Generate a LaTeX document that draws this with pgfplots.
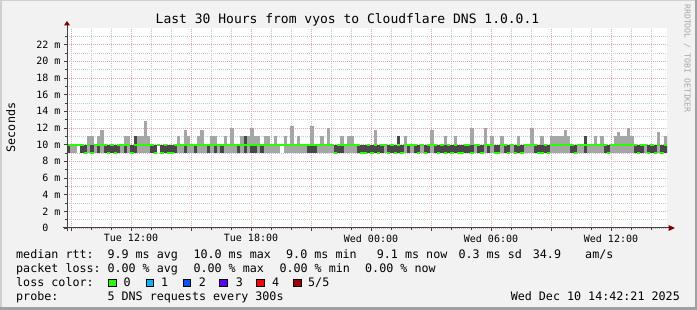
\documentclass[border=0pt]{standalone}
\usepackage{fontspec}
\setmainfont{DejaVu Sans Mono}
\usepackage{pgfplots}
\pgfplotsset{compat=1.18}
\usepackage{pgfplotstable}

\definecolor{bgc}{HTML}{F2F2F2}
\definecolor{brdlight}{HTML}{D0D0D0}
\definecolor{brddark}{HTML}{A0A0A0}
\definecolor{axcol}{HTML}{404040}
\definecolor{arrowcol}{HTML}{7F0000}
\definecolor{mgrid}{HTML}{E8A8A8}
\definecolor{ngrid}{HTML}{C8C8C8}
\definecolor{smokeL}{HTML}{A6A6A6}
\definecolor{smokeD}{HTML}{484848}
\definecolor{loss0}{HTML}{26FF00}
\definecolor{loss1}{HTML}{00B8FF}
\definecolor{loss2}{HTML}{0059FF}
\definecolor{loss3}{HTML}{5E00FF}
\definecolor{loss4}{HTML}{FF0000}
\definecolor{loss5}{HTML}{A00000}
\definecolor{wmark}{HTML}{A8A8A8}

% i = 10-minute step since Tue 08:48; lo/hi = min/max ping, dlo/dhi = inner range, med = median (ms)
\pgfplotstableread{
i lo dlo dhi hi med
0 9 9 10 10 10
1 9 10 10 10 10
2 9 10 10 10 10
3 10 10 10 10 10
4 9 9 10 10 10
5 9 9 10 10 9
6 9 10 10 11 10
7 9 9 10 11 9
8 9 10 10 10 10
9 9 9 10 11 10
10 9 10 10 11.7 10
11 9 9 10 10 10
12 9 9 10 10 9
13 9 9 10 10 10
14 9 9 10 10 9
15 9 9 10 10 10
16 9 10 10 10 10
17 9 9 10 11 10
18 9 10 10 11 10
19 9 9 10 10 9
20 9 9 11 11 10
21 9 10 10 11 10
22 9 10 10 11 10
23 9 10 10 12.8 10
24 9 10 10 11 10
25 9 9 10 10 10
26 9 9 10 10 9
27 10 10 10 10 10
28 9 9 10 10 9
29 9 9 10 10 10
30 9 9 10 10 9
31 9 9 10 10 9
32 9 9 10 10 10
33 9 10 10 11 10
34 9 10 10 10 10
35 9 9 10 11.8 10
36 9 10 10 11 10
37 9 10 10 10 10
38 9 9 10 10 10
39 9 10 10 11 10
40 9 10 10 11.8 10
41 9 10 10 10 10
42 9 9 10 10 10
43 9 10 10 11 10
44 9 9 10 11 10
45 9 10 10 10 10
46 9 9 10 10 10
47 9 10 10 11 10
48 9 10 10 10 10
49 9 10 10 12 10
50 9 10 10 10 10
51 9 9 10 10 10
52 9 10 10 11 10
53 9 9 11 11 10
54 9 10 10 11 10
55 9 9 10 12 10
56 9 9 10 11 10
57 9 10 10 11 10
58 9 9 10 10 10
59 9 10 10 11 10
60 9 10 10 11 10
61 9 10 10 10 10
62 9 10 10 11 10
63 9 10 10 10 10
64 10 10 10 10 10
65 9 10 10 11 10
66 9 10 10 10 10
67 9 10 10 12.2 10
68 9 10 10 10 10
69 9 10 10 11 10
70 9 10 10 10 10
71 9 10 10 10 10
72 9 9 10 10 10
73 9 9 10 12.2 10
74 9 9 10 10 10
75 9 10 10 10 10
76 9 10 10 11 10
77 9 10 10 10 10
78 9 10 10 12 10
79 9 10 10 10 10
80 9 9 10 10 9
81 9 9 10 10 10
82 9 9 10 11 10
83 9 10 10 10 10
84 9 10 10 11 10
85 9 10 10 11 10
86 9 10 10 10 10
87 9 9 10 10 10
88 9 9 10 10 9
89 9 9 10 10 9
90 9 9 10 10 10
91 9 9 10 10 9
92 9 9 10 11.8 10
93 9 9 10 10 9
94 9 9 10 10 10
95 9 10 10 10 10
96 9 9 10 10 9
97 9 9 10 10 10
98 9 9 10 10 9
99 9 9 11 11 10
100 9 9 10 10 9
101 9 10 10 11 10
102 9 9 10 10 10
103 9 10 10 10 10
104 9 9 10 10 10
105 9 9 10 10 9
106 9 10 10 10 10
107 9 9 10 10 9
108 9 9 10 10 10
109 9 10 10 11.7 10
110 9 9 10 10 10
111 9 9 10 10 9
112 9 9 10 10 10
113 9 9 10 11 9
114 9 9 10 10 10
115 9 9 10 10 9
116 9 9 10 11 10
117 9 9 10 10 9
118 9 9 10 10 9
119 9 9 10 10 10
120 9 9 10 10 10
121 9 9 10 12 9
122 9 10 10 10 10
123 9 9 10 10 10
124 9 9 10 10 9
125 9 10 10 12 10
126 9 9 10 10 10
127 9 10 10 11 10
128 9 9 10 10 9
129 9 9 10 10 9
130 9 10 10 11 10
131 9 9 10 10 10
132 9 9 10 10 9
133 9 10 10 10 10
134 9 9 10 10 9
135 9 9 10 11 10
136 9 9 10 10 9
137 9 10 10 10 10
138 9 10 10 10 10
139 9 10 10 12 10
140 9 9 10 10 10
141 9 9 10 10 9
142 9 9 10 11 9
143 9 9 10 10 10
144 9 9 10 10 9
145 9 10 10 11 10
146 9 10 10 11 10
147 9 10 10 11 10
148 9 10 10 11 10
149 9 10 10 11.8 10
150 9 10 10 11 10
151 9 9 10 10 10
152 9 9 10 10 9
153 9 10 10 10 10
154 9 10 10 10 10
155 9 9 11 11 10
156 9 10 10 10 10
157 9 10 10 10 10
158 9 10 10 11 10
159 9 10 10 10 10
160 9 10 10 11 10
161 9 9 10 10 10
162 9 9 10 10 9
163 9 10 10 10 10
164 9 10 10 11 10
165 9 10 10 11.5 10
166 9 10 10 11 10
167 9 10 10 11 10
168 9 10 10 12 10
169 9 10 10 11 10
170 9 9 10 10 10
171 9 9 10 10 9
172 9 9 10 10 10
173 9 10 10 10 10
174 9 9 10 10 9
175 9 9 10 10 10
176 9 9 10 10 9
177 9 10 10 11.5 10
178 9 9 10 10 9
179 9 9 10 11 10
180 9 9 10 11 10
}\smoke

\begin{document}
\begin{tikzpicture}
\path[use as bounding box] (0,0) rectangle (697bp,310bp);
\fill[bgc] (0,0) rectangle (697bp,310bp);
\fill[brdlight] (0,308.5bp) rectangle (697bp,310bp);
\fill[brdlight] (0,0) rectangle (1.5bp,310bp);
\fill[brddark] (695bp,0) rectangle (697bp,310bp);
\fill[brddark] (0,0) rectangle (697bp,3bp);

\begin{axis}[
  at={(67bp,82bp)}, anchor=south west,
  scale only axis, width=600bp, height=200bp,
  xmin=8.8, xmax=38.8, ymin=0, ymax=24,
  axis background/.style={fill=white},
  axis line style={draw=none},
  xtick pos=bottom, ytick pos=left, tick align=outside,
  major tick length=3bp, minor tick length=2bp,
  every tick/.style={axcol, line width=0.8bp},
  grid=both,
  major grid style={draw=mgrid, line width=0.8bp, dash pattern=on 1bp off 1bp},
  minor grid style={draw=ngrid, line width=0.8bp, dash pattern=on 1bp off 1bp},
  xtick={9,12,...,36},
  xticklabels={,Tue 12:00,,Tue 18:00,,Wed 00:00,,Wed 06:00,,Wed 12:00},
  minor xtick={10,11,13,14,16,17,19,20,22,23,25,26,28,29,31,32,34,35,37,38},
  ytick={0,2,...,22},
  yticklabels={0\hphantom{0m},2 m,4 m,6 m,8 m,10 m,12 m,14 m,16 m,18 m,20 m,22 m},
  minor ytick={1,3,...,23},
  ticklabel style={font=\fontsize{10bp}{12bp}\selectfont, text=black},
  yticklabel style={anchor=east},
]
\addplot[smokeL, line width=3.45bp, line cap=butt, no markers, forget plot,
  quiver={u=0, v=\thisrow{hi}-\thisrow{lo}}]
  table[x expr=8.8+(\thisrow{i}+0.5)/6, y=lo]{\smoke};
\addplot[smokeD, line width=3.45bp, line cap=butt, no markers, forget plot,
  quiver={u=0, v=\thisrow{dhi}-\thisrow{dlo}}]
  table[x expr=8.8+(\thisrow{i}+0.5)/6, y=dlo]{\smoke};
\addplot[loss0, jump mark left, line width=2bp, line cap=butt, no markers] table[x expr=8.8+\thisrow{i}/6, y=med]{\smoke};
\end{axis}

% axes with arrows
\draw[axcol, line width=1bp] (67bp,79bp) -- (67bp,285bp);
\fill[arrowcol] (64bp,284.5bp) -- (70bp,284.5bp) -- (67bp,289bp) -- cycle;
\draw[axcol, line width=1bp] (63bp,82bp) -- (669bp,82bp);
\fill[arrowcol] (668.5bp,79bp) -- (668.5bp,85bp) -- (675bp,82bp) -- cycle;

% title and labels
\node[anchor=base, inner sep=0pt, font=\fontsize{13bp}{15bp}\selectfont] at (347.5bp,286bp) {Last 30 Hours from vyos to Cloudflare DNS 1.0.0.1};
\node[rotate=90, anchor=base, inner sep=0pt, font=\fontsize{11.7bp}{14bp}\selectfont] at (15bp,182.5bp) {Seconds};
\node[rotate=-90, anchor=base, inner sep=0pt, text=wmark, font=\fontsize{8.2bp}{10bp}\selectfont] at (684.5bp,251.5bp) {RRDTOOL / TOBI OETIKER};

% legend
\begin{scope}[every node/.style={anchor=base west, inner sep=0pt, font=\fontsize{11.7bp}{14bp}\selectfont}]
\node at (16bp,51.5bp) {median rtt:};
\node at (107.3bp,51.5bp) {9.9 ms avg};
\node at (193.3bp,51.5bp) {10.0 ms max};
\node at (286bp,51.5bp) {9.0 ms min};
\node at (376.7bp,51.5bp) {9.1 ms now};
\node at (458.3bp,51.5bp) {0.3 ms sd};
\node at (532.7bp,51.5bp) {34.9};
\node at (585bp,51.5bp) {am/s};
\node at (16bp,37.7bp) {packet loss:};
\node at (107.3bp,37.7bp) {0.00 \% avg};
\node at (193.3bp,37.7bp) {0.00 \% max};
\node at (279.3bp,37.7bp) {0.00 \% min};
\node at (365bp,37.7bp) {0.00 \% now};
\node at (16bp,24bp) {loss color:};
\node at (123.3bp,24bp) {0};
\node at (161bp,24bp) {1};
\node at (198.7bp,24bp) {2};
\node at (235.7bp,24bp) {3};
\node at (272bp,24bp) {4};
\node at (308bp,24bp) {5/5};
\node at (16bp,10bp) {probe:};
\node at (107.3bp,10bp) {5 DNS requests every 300s};
\node[anchor=base east] at (680bp,10bp) {Wed Dec 10 14:42:21 2025};
\end{scope}
\foreach \xx/\cc in {108.5/loss0,146/loss1,183/loss2,219.5/loss3,256.5/loss4,293.5/loss5}{
  \filldraw[fill=\cc, draw=black, line width=0.8bp] (\xx bp,23.5bp) rectangle ++(7.5bp,7.5bp);
}
\end{tikzpicture}
\end{document}
